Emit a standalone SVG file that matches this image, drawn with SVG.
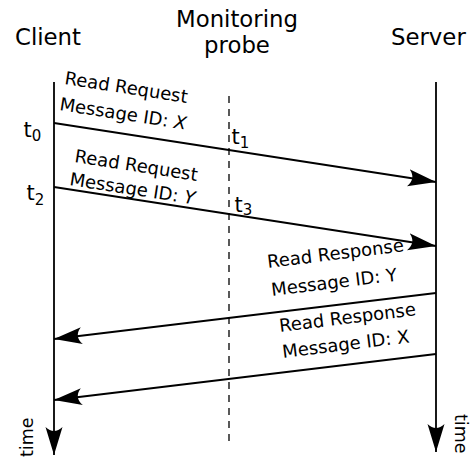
<svg xmlns="http://www.w3.org/2000/svg" width="475" height="461" viewBox="0 0 475 461">
<style>
text{font-family:"DejaVu Sans",sans-serif;fill:#000}
.h{font-size:22.8px}
.l{font-size:18px}
.tm{font-size:17.5px}
.t{font-size:21px}
.s{font-size:15px}
.ln{stroke:#000;stroke-width:1.8;fill:none}
</style>
<defs>
<marker id="ah" markerUnits="userSpaceOnUse" markerWidth="30" markerHeight="20" viewBox="-28 -10 30 20" refX="0" refY="0" orient="auto">
<path d="M0,0 L-28,-8.5 Q-20,0 -28,8.5 Z" fill="#000"/>
</marker>
</defs>
<rect width="475" height="461" fill="#fff"/>
<g id="client">
<text class="h" x="15" y="45">Client</text>
<line class="ln" x1="54" y1="82" x2="54" y2="455" marker-end="url(#ah)"/>
<text class="tm" transform="translate(33,457) rotate(-90)">time</text>
</g>
<g id="probe">
<text class="h" x="237" y="27" text-anchor="middle">Monitoring</text>
<text class="h" x="237" y="53" text-anchor="middle">probe</text>
<line x1="229" y1="96" x2="229" y2="445" stroke="#000" stroke-width="1.3" stroke-dasharray="7,6"/>
</g>
<g id="server">
<text class="h" x="391" y="45">Server</text>
<line class="ln" x1="436" y1="82" x2="436" y2="452" marker-end="url(#ah)"/>
<text class="tm" transform="translate(455,414) rotate(90)">time</text>
</g>
<g id="times">
<text class="t" x="23.5" y="137">t<tspan class="s" dy="4">0</tspan></text>
<text class="t" x="26.5" y="200">t<tspan class="s" dy="5">2</tspan></text>
<text class="t" x="231.5" y="144">t<tspan class="s" dy="4">1</tspan></text>
<text class="t" x="234.5" y="212">t<tspan class="s" dy="3">3</tspan></text>
</g>
<g id="connectors">
<line class="ln" x1="54" y1="123" x2="436" y2="182" marker-end="url(#ah)"/>
<line class="ln" x1="54" y1="187" x2="436" y2="246" marker-end="url(#ah)"/>
<line class="ln" x1="436" y1="293" x2="54" y2="339" marker-end="url(#ah)"/>
<line class="ln" x1="436" y1="354" x2="54" y2="400" marker-end="url(#ah)"/>
</g>
<g id="labels">
<text class="l" transform="translate(64,84) rotate(8.8)">Read Request</text>
<text class="l" transform="translate(59,110) rotate(8.8)">Message ID: <tspan font-style="italic">X</tspan></text>
<text class="l" transform="translate(74,162) rotate(8.8)">Read Request</text>
<text class="l" transform="translate(69,185) rotate(8.8)">Message ID: <tspan font-style="italic">Y</tspan></text>
<text class="l" transform="translate(268,268) rotate(-7)">Read Response</text>
<text class="l" transform="translate(272,296) rotate(-7)">Message ID: Y</text>
<text class="l" transform="translate(280,332) rotate(-7)">Read Response</text>
<text class="l" transform="translate(283,358) rotate(-7)">Message ID: X</text>
</g>
</svg>
